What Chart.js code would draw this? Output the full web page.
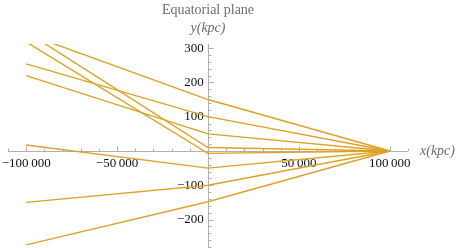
<!DOCTYPE html>
<html>
<head>
<meta charset="utf-8">
<script src="https://cdn.jsdelivr.net/npm/chart.js@4"></script>
<style>
  html, body { margin: 0; padding: 0; background: #fff; }
  #wrap { width: 457px; height: 248px; position: relative; }
</style>
</head>
<body>
<div id="wrap"><canvas id="plane"></canvas></div>
<script>
// ray knots along x (kpc)
const rayX = [-100000, 0, 100000];
// y at each knot, one entry per ray
const rayStartY = [342, 348, 318, 254, 220, 17.5, -150, -274];
const rayMidY = [150, 10, -7, 100, 50, -50, -100, -148];
const rayEndY = [0, 0, 0, 0, 0, 0, 0, 0];

const xTicks = [-100000, -50000, 50000, 100000];
const yTicks = [-200, -100, 100, 200, 300];

const titleText = 'Equatorial plane';
const xLabel = 'x(kpc)';
const yLabel = 'y(kpc)';

const lineColor = 'rgb(221, 162, 40)';
const axisColor = '#b0b0b0';
const labelGray = '#6e6e6e';
const tickFont = { family: '"Liberation Serif", "DejaVu Serif", serif', size: 13 };

function fmt(v) {
    const s = Math.abs(v).toString().replace(/\B(?=(\d{3})+(?!\d))/g, '\u2009');
    return (v < 0 ? '\u2212' : '') + s;
}

const datasets = rayStartY.map((y0, i) => ({
    data: [
        { x: rayX[0], y: y0 },
        { x: rayX[1], y: rayMidY[i] },
        { x: rayX[2], y: rayEndY[i] }
    ],
    borderColor: lineColor,
    borderWidth: 1.4,
    pointRadius: 0,
    tension: 0,
    fill: false
}));

// no extra room for overflowing tick labels, the axes sit inside the plot
function noPadding(s) {
    s.paddingLeft = 0;
    s.paddingRight = 0;
    s.paddingTop = 0;
    s.paddingBottom = 0;
}

// axes through origin, with major and minor ticks, plus title / axis names
const axesPlugin = {
    id: 'axesPlugin',
    beforeDatasetsDraw(chart) {
        const { ctx, chartArea, scales: { x, y } } = chart;
        const x0 = Math.round(x.getPixelForValue(0));
        const y0 = Math.round(y.getPixelForValue(0));
        ctx.save();
        ctx.strokeStyle = axisColor;
        ctx.lineWidth = 1;
        ctx.beginPath();
        ctx.moveTo(chartArea.left, y0 + 0.5);
        ctx.lineTo(chartArea.right, y0 + 0.5);
        ctx.moveTo(x0 + 0.5, chartArea.top);
        ctx.lineTo(x0 + 0.5, chartArea.bottom);
        for (let v = -110000; v <= 110000; v += 10000) {
            if (v === 0) continue;
            const px = Math.round(x.getPixelForValue(v)) + 0.5;
            const len = v % 50000 === 0 ? 4.5 : 2.5;
            ctx.moveTo(px, y0);
            ctx.lineTo(px, y0 - len);
        }
        for (let v = -280; v <= 300; v += 20) {
            if (v === 0) continue;
            const py = Math.round(y.getPixelForValue(v)) + 0.5;
            const len = v % 100 === 0 ? 4.5 : 2.5;
            ctx.moveTo(x0 + 1, py);
            ctx.lineTo(x0 + 1 + len, py);
        }
        ctx.stroke();
        ctx.restore();
    },
    afterDraw(chart) {
        const { ctx, scales: { x, y } } = chart;
        const x0 = x.getPixelForValue(0);
        const y0 = y.getPixelForValue(0);
        ctx.save();
        ctx.fillStyle = labelGray;
        ctx.textBaseline = 'middle';
        ctx.textAlign = 'center';
        ctx.font = '14px "Liberation Serif", "DejaVu Serif", serif';
        ctx.fillText(titleText, x0, 10);
        ctx.font = 'italic 14px "Liberation Serif", "DejaVu Serif", serif';
        ctx.fillText(yLabel, x0, 28);
        ctx.textAlign = 'left';
        ctx.fillText(xLabel, x.right + 12, y0);
        ctx.restore();
    }
};

new Chart(document.getElementById('plane'), {
    type: 'line',
    data: { datasets },
    options: {
        responsive: true,
        maintainAspectRatio: false,
        animation: false,
        layout: {
            padding: { left: 8, right: 49, top: 44, bottom: 0 }
        },
        plugins: {
            legend: { display: false },
            tooltip: { enabled: false },
            title: { display: false }
        },
        scales: {
            x: {
                type: 'linear',
                min: -110000,
                max: 110000,
                position: { y: 0 },
                afterBuildTicks: s => { s.ticks = xTicks.map(v => ({ value: v })); },
                afterFit: noPadding,
                grid: { display: false, drawTicks: false },
                border: { display: false },
                ticks: {
                    autoSkip: false,
                    maxRotation: 0,
                    padding: 5,
                    color: '#111',
                    font: tickFont,
                    callback: v => fmt(v)
                }
            },
            y: {
                type: 'linear',
                min: -283,
                max: 312,
                // labels anchored a little left of the drawn axis at x = 0
                position: { x: -2300 },
                afterBuildTicks: s => { s.ticks = yTicks.map(v => ({ value: v })); },
                afterFit: noPadding,
                grid: { display: false, drawTicks: false },
                border: { display: false },
                ticks: {
                    autoSkip: false,
                    color: '#111',
                    font: tickFont,
                    callback: v => fmt(v)
                }
            }
        }
    },
    plugins: [axesPlugin]
});
</script>
</body>
</html>
